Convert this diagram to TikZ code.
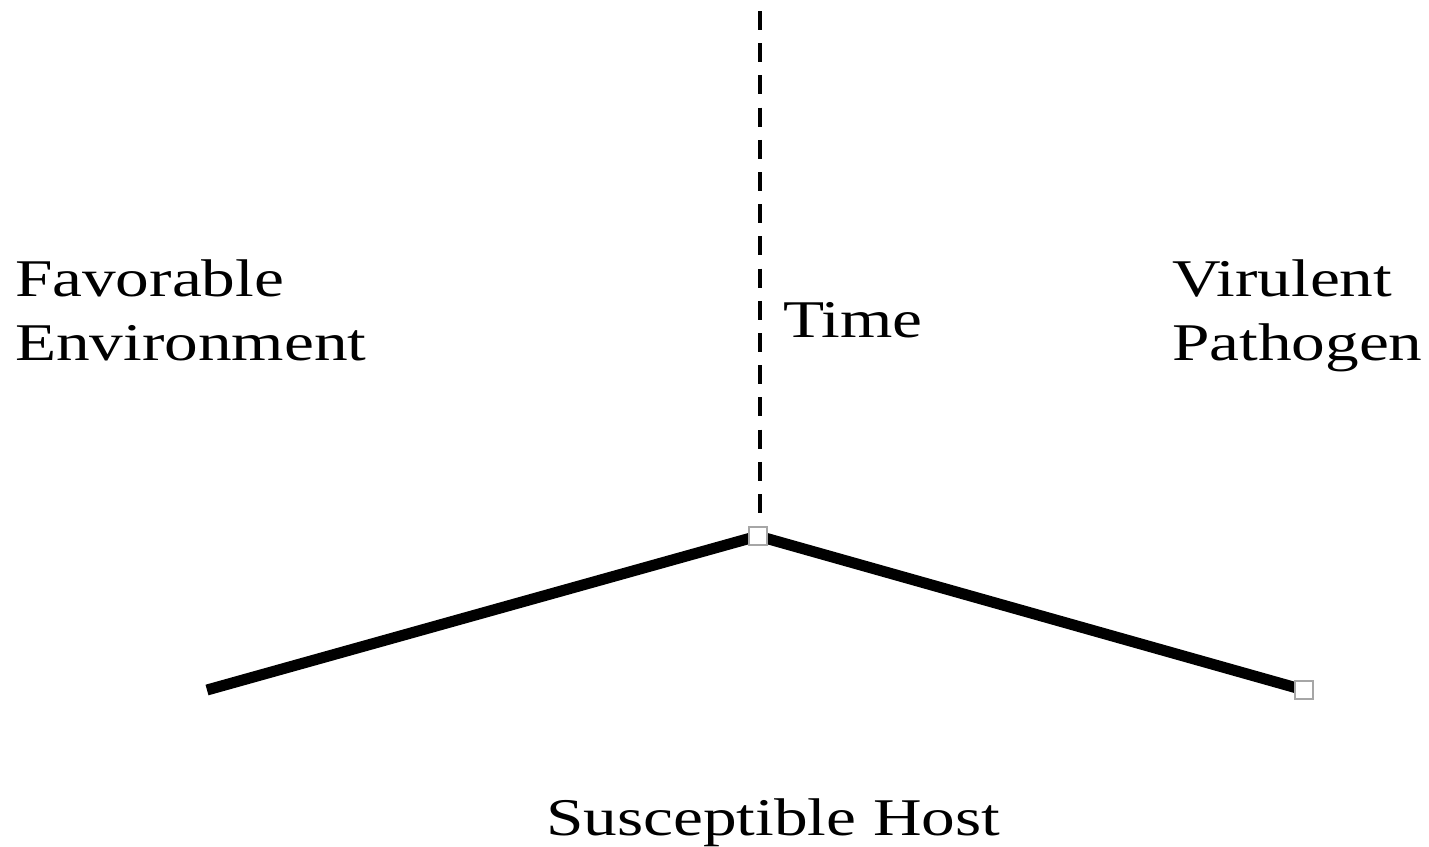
\documentclass[tikz,border=0pt]{standalone}
\usepackage{fontspec}
\setmainfont{Liberation Serif}
\usepackage{graphicx}
\begin{document}
\begin{tikzpicture}[x=0.5pt,y=-0.5pt,
  lbl/.style={anchor=base west,inner sep=0pt,outer sep=0pt,
    font=\fontsize{26.5}{32}\selectfont},
  bar/.style={line width=5.5pt,line cap=butt,line join=miter},
  dashline/.style={line width=2pt,dash pattern=on 9.5pt off 6.6pt},
  handle/.style={rectangle,draw=black!35,fill=white,line width=0.7pt,
    minimum size=9pt,inner sep=0pt}]
\useasboundingbox (0,0) rectangle (1429,846);
\coordinate (T) at (760,11);
\coordinate (Tb) at (760,516);
\coordinate (J) at (758,536);
\coordinate (L) at (207,690);
\coordinate (R) at (1304,690);
\draw[dashline] (T) -- (Tb);
\draw[bar] (L) -- (J) -- (R);
\node[handle] (jbox) at (J) {};
\node[handle] (rbox) at (R) {};
\node[lbl] (env) at (15,296) {\scalebox{1.27}[1]{\begin{tabular}[t]{@{}l@{}}Favorable\\Environment\end{tabular}}};
\node[lbl] (time) at (783,337) {\scalebox{1.27}[1]{Time}};
\node[lbl] (path) at (1172,296) {\scalebox{1.27}[1]{\begin{tabular}[t]{@{}l@{}}Virulent\\Pathogen\end{tabular}}};
\node[lbl] (host) at (546,835) {\scalebox{1.27}[1]{Susceptible Host}};
\end{tikzpicture}
\end{document}
